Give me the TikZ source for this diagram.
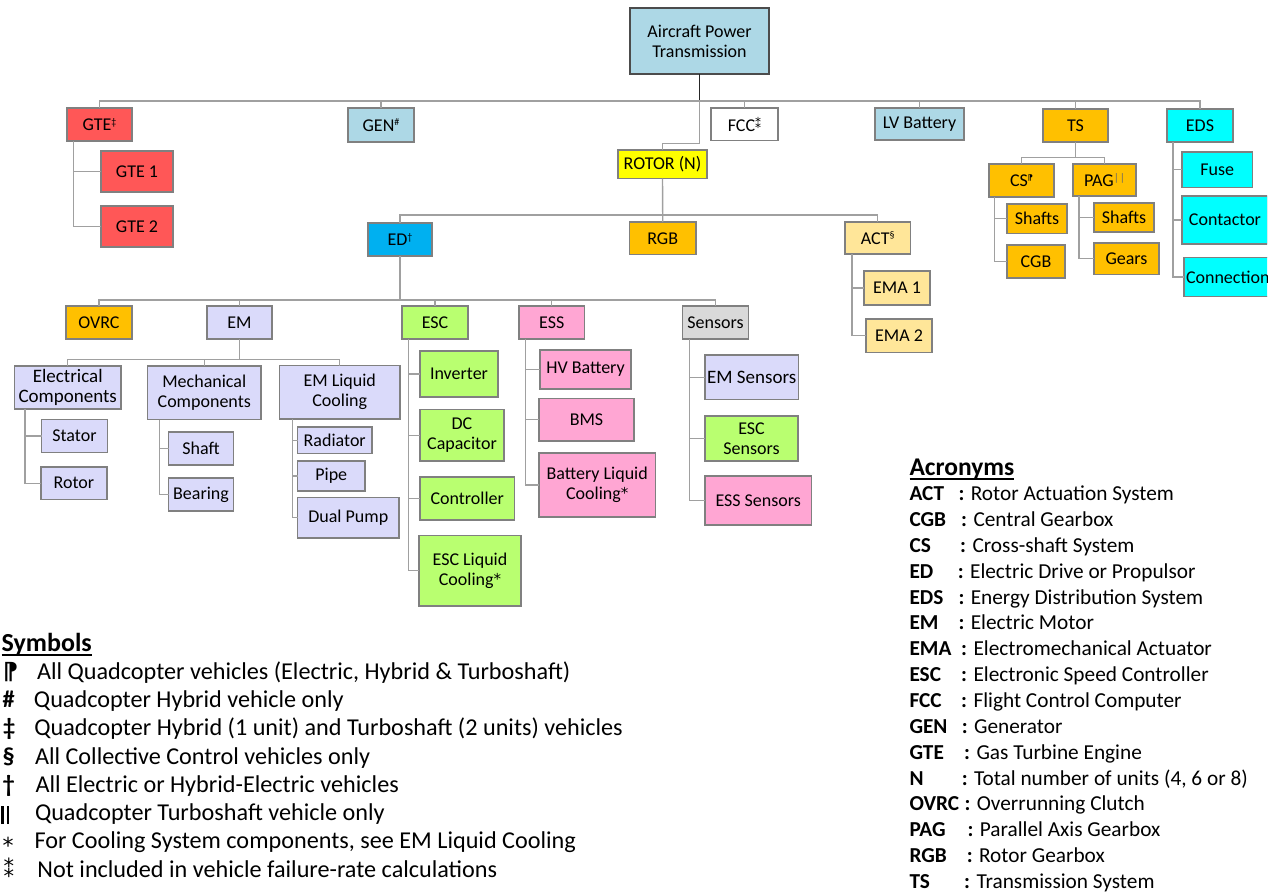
\documentclass[tikz,border=0pt]{standalone}
\usepackage{fontspec}
\setmainfont{Carlito}
\newfontfamily\djv{DejaVu Sans}
\usetikzlibrary{calc}

% fills
\definecolor{lblue}{HTML}{ADD8E6}
\definecolor{gtered}{HTML}{FF5757}
\definecolor{tsorange}{HTML}{FFC000}
\definecolor{cyanbox}{HTML}{00FFFF}
\definecolor{rotoryel}{HTML}{FFFF00}
\definecolor{edblue}{HTML}{00B0F0}
\definecolor{actyel}{HTML}{FFE699}
\definecolor{lav}{HTML}{DADAFA}
\definecolor{lime}{HTML}{B9FF70}
\definecolor{pinkbox}{HTML}{FFA6D3}
\definecolor{sgray}{HTML}{D9D9D9}
\definecolor{boxline}{HTML}{808080}
\definecolor{connline}{HTML}{A0A0A0}

% box: name, style, x1, y1, x2, y2, text
\newcommand\bx[7]{%
  \pgfmathsetmacro\bxw{#5-#3}\pgfmathsetmacro\bxh{#6-#4}%
  \pgfmathsetmacro\bxx{(#3+#5)/2}\pgfmathsetmacro\bxy{(#4+#6)/2}%
  \node[box,#2,minimum width=\bxw pt,minimum height=\bxh pt] (#1) at (\bxx,\bxy) {#7};}
% trunk from a parent's lower left corner to a child's west side
\newcommand\side[3]{\draw[conn] ([xshift=#2pt]#1.south west) |- (#3.west);}
\newcommand\supr[2][5.5pt]{\raisebox{#1}{\fontsize{10}{10}\selectfont #2}}
\newcommand\ulx[1]{\setbox0\hbox{#1}\dimen0=\wd0\rlap{\box0}\rule[-5pt]{\dimen0}{2pt}}
\newcommand\boxast{{\djv\fontsize{15}{15}\selectfont\raisebox{1pt}{*}}}

\tikzset{
  box/.style={draw=boxline, line width=1.2pt, inner sep=0pt, outer sep=0pt,
    align=center, font=\fontsize{18}{20}\selectfont, text=black},
  conn/.style={draw=connline, line width=1.4pt},
  rootline/.style={draw=black!85, line width=1.4pt},
  legend/.style={anchor=base west, inner sep=0pt, outer sep=0pt},
  symfont/.style={font=\fontsize{24.2}{28}\selectfont},
  symbold/.style={font=\fontsize{24.2}{28}\selectfont\bfseries},
  acrfont/.style={font=\fontsize{21.3}{25}\selectfont},
  acrbold/.style={font=\fontsize{21.3}{25}\selectfont\bfseries},
}

\begin{document}
\begin{tikzpicture}[x=1pt,y=-1pt]
\useasboundingbox (0,0) rectangle (1275,892);
\clip (0,0) rectangle (1267,892);

% ---- top level ----
\bx{root}{fill=lblue,draw=black!70}{630}{8}{769}{74}{Aircraft Power\\Transmission}
\bx{gte}{fill=gtered}{67}{108}{132}{141}{GTE\supr{‡}}
\bx{gteone}{fill=gtered}{101}{151}{173}{192}{GTE 1}
\bx{gtetwo}{fill=gtered}{101}{206}{173}{247}{GTE 2}
\bx{gen}{fill=lblue}{348}{108}{414}{142}{GEN\supr{\#}}
\bx{fcc}{fill=white}{711}{108}{778}{140.5}{FCC\supr[3pt]{\djv\fontsize{12}{12}\selectfont ⁑}}
\bx{rotor}{fill=rotoryel}{618}{150}{707}{178.5}{ROTOR (N)}
\bx{lvbat}{fill=lblue}{875}{108}{964}{140}{LV Battery}
\bx{ts}{fill=tsorange}{1043}{109}{1108}{142}{TS}
\bx{eds}{fill=cyanbox}{1167}{109}{1233}{142}{EDS}

% ---- transmission system ----
\bx{cs}{fill=tsorange}{989}{164}{1054}{197}{CS\supr[6pt]{\djv\bfseries\fontsize{8}{8}\selectfont ⁋}}
\bx{pag}{fill=tsorange}{1073}{164}{1136}{196}{PAG\supr[5pt]{\color{black!60}\fontsize{11}{11}\selectfont |\kern1pt|}}
\bx{csshafts}{fill=tsorange}{1007}{204}{1067}{233.5}{Shafts}
\bx{cgb}{fill=tsorange}{1007}{245}{1065}{278}{CGB}
\bx{pagshafts}{fill=tsorange}{1094}{203}{1154}{232}{Shafts}
\bx{gears}{fill=tsorange}{1094}{243}{1159}{274.5}{Gears}

% ---- energy distribution ----
\bx{fuse}{fill=cyanbox}{1182}{152}{1252.5}{187.5}{Fuse}
\bx{contactor}{fill=cyanbox}{1182}{196}{1268}{244}{Contactor}
\node[box,fill=cyanbox,anchor=west,inner xsep=2pt,minimum height=39.5pt] (connection) at (1184,277) {Connection};

% ---- rotor ----
\bx{ed}{fill=edblue}{368}{223}{432}{256}{ED\supr{†}}
\bx{rgb}{fill=tsorange}{629.5}{222}{696}{254.5}{RGB}
\bx{act}{fill=actyel}{845}{222}{910.5}{254}{ACT\supr{§}}
\bx{emaone}{fill=actyel}{864}{271}{930}{305}{EMA 1}
\bx{ematwo}{fill=actyel}{866}{319}{932}{352.5}{EMA 2}

% ---- electric drive ----
\bx{ovrc}{fill=tsorange}{66}{306}{132}{339}{OVRC}
\bx{em}{fill=lav}{207}{306}{272}{339}{EM}
\bx{esc}{fill=lime}{402}{306}{468}{339}{ESC}
\bx{ess}{fill=pinkbox}{519}{306}{584.5}{339}{ESS}
\bx{sensors}{fill=sgray}{682.5}{306}{748.5}{339}{Sensors}

\bx{elec}{fill=lav,font=\fontsize{19}{20}\selectfont}{14.5}{366}{121}{409}{Electrical\\Components}
\bx{mech}{fill=lav}{147.5}{366}{261}{419.5}{Mechanical\\Components}
\bx{emlc}{fill=lav}{279.5}{365.5}{400}{419}{EM Liquid\\Cooling}
\bx{stator}{fill=lav}{41.5}{419.5}{107.5}{452.5}{Stator}
\bx{rotorpart}{fill=lav}{41}{467}{107}{499.5}{Rotor}
\bx{shaft}{fill=lav}{168.5}{432}{233.5}{465}{Shaft}
\bx{bearing}{fill=lav}{168.5}{478}{233.5}{511}{Bearing}
\bx{radiator}{fill=lav}{297.5}{427}{372}{453.5}{Radiator}
\bx{pipe}{fill=lav}{297.5}{461}{365}{491}{Pipe}
\bx{dualpump}{fill=lav}{297.5}{497.5}{399}{538}{Dual Pump}

\bx{inverter}{fill=lime}{420}{351}{498}{397}{Inverter}
\bx{dccap}{fill=lime}{420}{409.5}{504}{461}{DC\\Capacitor}
\bx{controller}{fill=lime}{420}{477}{514.5}{520}{Controller}
\bx{esclc}{fill=lime}{419}{535.5}{521}{606}{ESC Liquid\\Cooling\boxast}

\bx{hvbat}{fill=pinkbox}{540}{350}{631}{389}{HV Battery}
\bx{bms}{fill=pinkbox}{539}{398.5}{634}{441}{BMS}
\bx{blc}{fill=pinkbox}{539}{453}{655.5}{517}{Battery Liquid\\Cooling\boxast}

\bx{emsens}{fill=lav,font=\fontsize{19}{20}\selectfont}{705}{355}{798.5}{399.5}{EM Sensors}
\bx{escsens}{fill=lime}{705}{416}{798}{461}{ESC\\Sensors}
\bx{esssens}{fill=pinkbox}{705}{476}{811.5}{525}{ESS Sensors}

% ---- connectors ----
\coordinate (mbus) at (699.5,101);
\coordinate (rjog) at (699.5,143.5);
\draw[rootline] (root.south) -- (mbus);
\draw[conn] (gte.north) |- (mbus) -| (eds.north);
\foreach \n in {gen,fcc,lvbat,ts} \draw[conn] (\n.north) -- (\n.north |- mbus);
\draw[conn] (mbus) -- (rjog) -| (rotor.north);

\coordinate (tsbus) at (1075.5,157.5);
\draw[conn] (ts.south) -- (tsbus);
\draw[conn] (cs.north) |- (tsbus) -| (pag.north);

\coordinate (rbus) at (662.5,215);
\draw[conn] (rotor.south) -- (rgb.north);
\draw[conn] (ed.north) |- (rbus) -| (act.north);

\coordinate (ebus) at (400,300);
\draw[conn] (ed.south) -- (ebus);
\draw[conn] (ovrc.north) |- (ebus) -| (sensors.north);
\foreach \n in {em,esc,ess} \draw[conn] (\n.north) -- (\n.north |- ebus);

\coordinate (embus) at (239.5,359.5);
\draw[conn] (em.south) -- (embus);
\draw[conn] (elec.north) |- (embus) -| (emlc.north);
\draw[conn] (mech.north) -- (mech.north |- embus);

\side{gte}{6.7}{gteone} \side{gte}{6.7}{gtetwo}
\side{cs}{5.7}{csshafts} \side{cs}{5.7}{cgb}
\side{pag}{6}{pagshafts} \side{pag}{6}{gears}
\side{eds}{6}{fuse} \side{eds}{6}{contactor} \side{eds}{6}{connection}
\side{act}{7}{emaone} \side{act}{7}{ematwo}
\side{elec}{10.4}{stator} \side{elec}{10.4}{rotorpart}
\side{mech}{11.7}{shaft} \side{mech}{11.7}{bearing}
\side{emlc}{13}{radiator} \side{emlc}{13}{pipe} \side{emlc}{13}{dualpump}
\side{esc}{6.7}{inverter} \side{esc}{6.7}{dccap} \side{esc}{6.7}{controller} \side{esc}{6.7}{esclc}
\side{ess}{6.3}{hvbat} \side{ess}{6.3}{bms} \side{ess}{6.3}{blc}
\side{sensors}{6.7}{emsens} \side{sensors}{6.7}{escsens} \side{sensors}{6.7}{esssens}

% ---- symbols legend ----
\node[legend,font=\fontsize{26}{30}\selectfont\bfseries] (symhead) at (1.7,651) {\ulx{Symbols}};
\node[legend,font=\fontsize{23.5}{28}\selectfont\djv\bfseries] (s1) at (3,679.3) {⁋};
\node[legend,symfont] (t1) at (37,679.3) {All Quadcopter vehicles (Electric, Hybrid \& Turboshaft)};
\node[legend,symbold] (s2) at (2.5,707.6) {\#};
\node[legend,symfont] (t2) at (34,707.6) {Quadcopter Hybrid vehicle only};
\node[legend,symbold] (s3) at (3,735.8) {‡};
\node[legend,symfont] (t3) at (34.3,735.8) {Quadcopter Hybrid (1 unit) and Turboshaft (2 units) vehicles};
\node[legend,symbold] (s4) at (2.5,764.1) {§};
\node[legend,symfont] (t4) at (35,764.1) {All Collective Control vehicles only};
\node[legend,symbold] (s5) at (2.5,792.3) {†};
\node[legend,symfont] (t5) at (35.5,792.3) {All Electric or Hybrid-Electric vehicles};
\node[legend] (s6) at (1,820.6) {\rule[-3.5pt]{2.6pt}{18pt}\kern3.2pt\rule[-3.5pt]{2.6pt}{18pt}};
\node[legend,symfont] (t6) at (35,820.6) {Quadcopter Turboshaft vehicle only};
\node[legend,font=\fontsize{22}{24}\selectfont\djv] (s7) at (2.5,848.8) {\raisebox{-4.5pt}{*}};
\node[legend,symfont] (t7) at (34.5,848.8) {For Cooling System components, see EM Liquid Cooling};
\node[legend,font=\fontsize{21}{24}\selectfont\djv] (s8) at (3.5,877.1) {⁑};
\node[legend,symfont] (t8) at (37.5,877.1) {Not included in vehicle failure-rate calculations};

% ---- acronyms legend ----
\node[legend,font=\fontsize{25.5}{28}\selectfont\bfseries] (acrhead) at (909.5,475) {\ulx{Acronyms}};
\foreach \ab/\cx/\desc [count=\i from 0] in {
  ACT/960/Rotor Actuation System,
  CGB/962.7/Central Gearbox,
  CS/961.7/Cross-shaft System,
  ED/959.3/Electric Drive or Propulsor,
  EDS/960/Energy Distribution System,
  EM/960/Electric Motor,
  EMA/962.7/Electromechanical Actuator,
  ESC/962.7/Electronic Speed Controller,
  FCC/962.7/Flight Control Computer,
  GEN/963.3/Generator,
  GTE/965.7/Gas Turbine Engine,
  N/963.3/{Total number of units (4, 6 or 8)},
  OVRC/966/Overrunning Clutch,
  PAG/969/Parallel Axis Gearbox,
  RGB/968.3/Rotor Gearbox,
  TS/965.7/Transmission System}{
  \pgfmathsetmacro\by{500.7+25.85*\i}
  \node[legend,acrbold] (ab\i) at (909.5,\by) {\ab};
  \node[legend,acrfont] (de\i) at (\cx-1.5,\by) {\textbf{:} \desc};
}
\end{tikzpicture}
\end{document}
